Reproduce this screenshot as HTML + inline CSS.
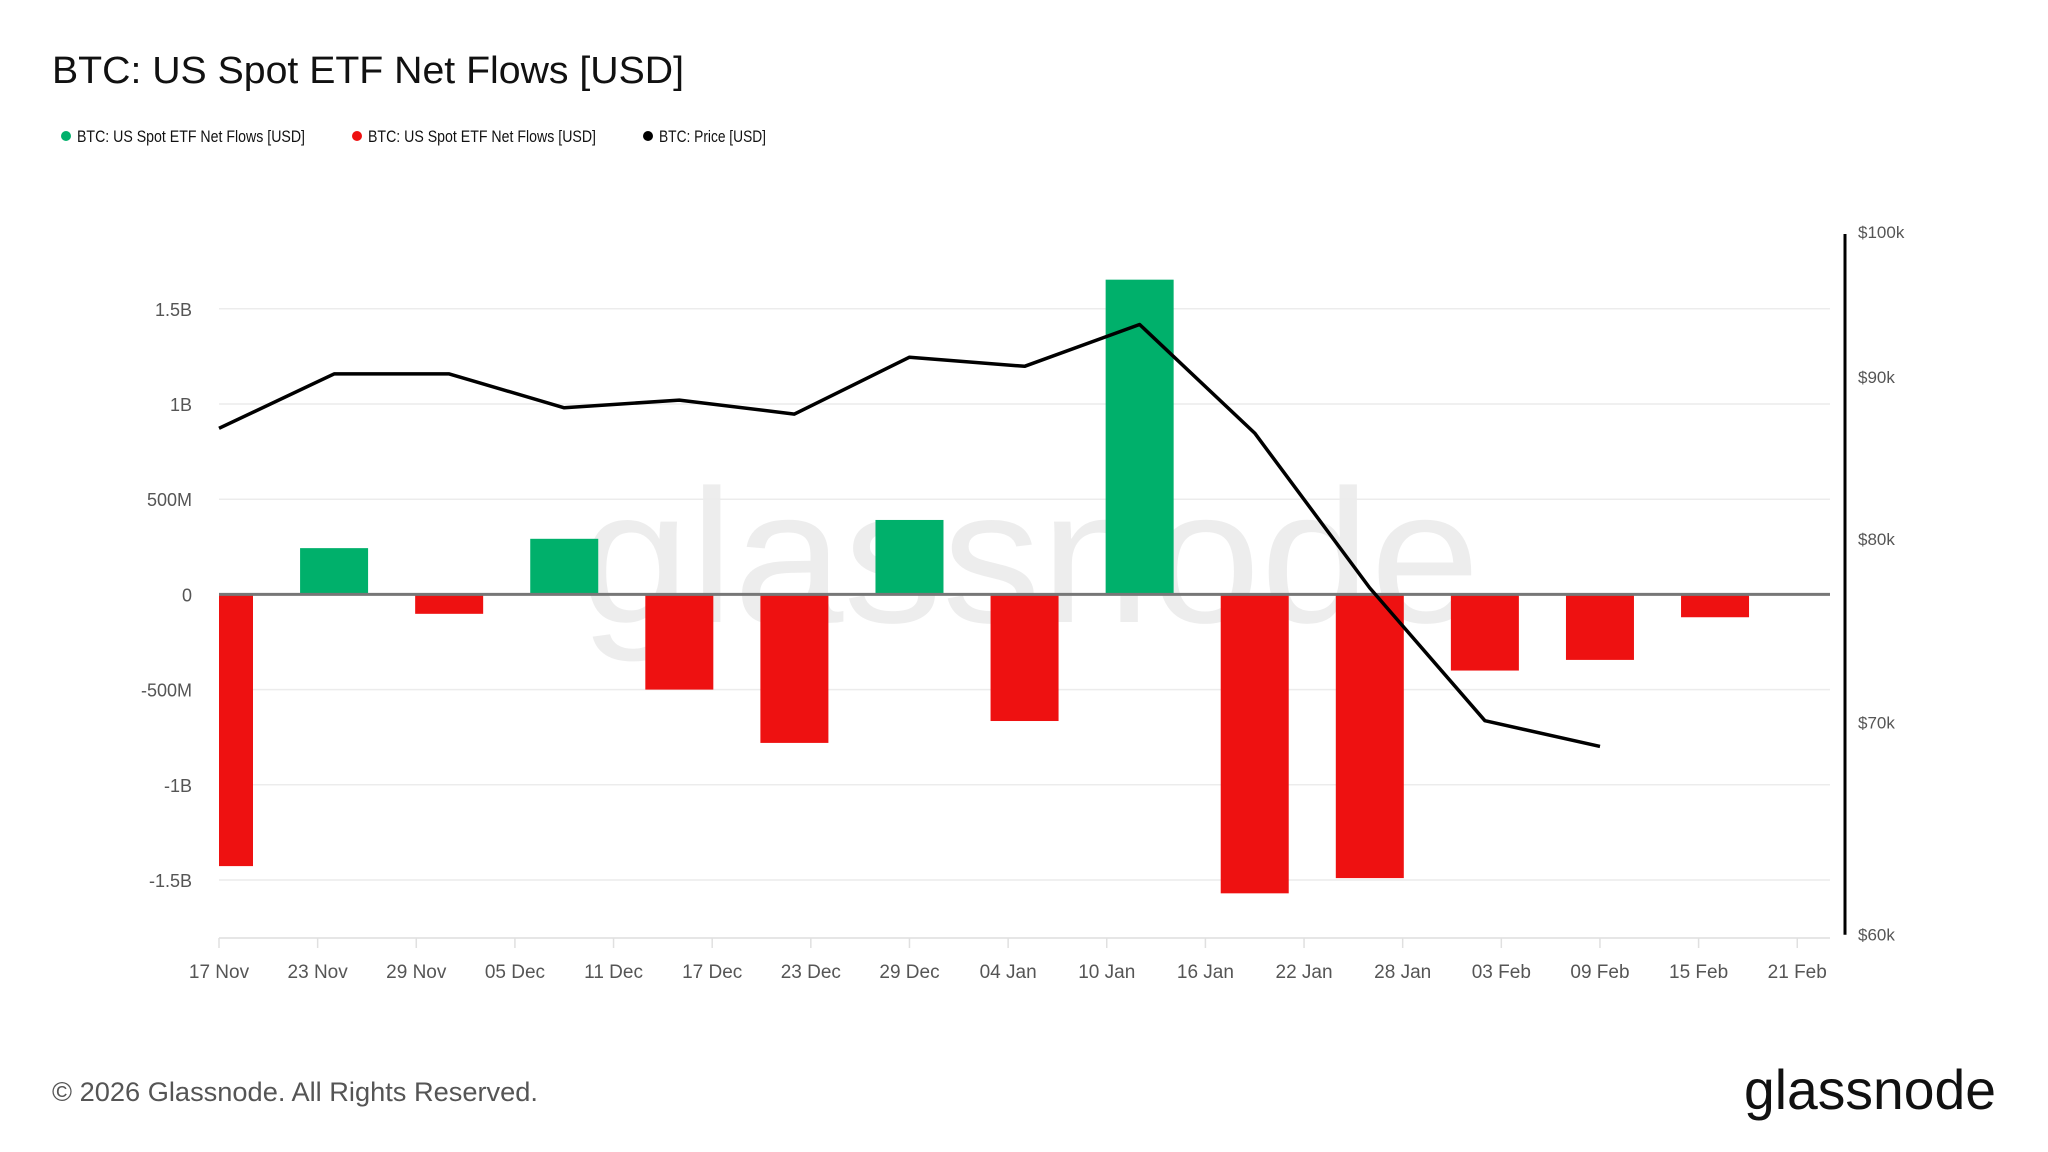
<!DOCTYPE html>
<html><head><meta charset="utf-8">
<style>
html,body{margin:0;padding:0;background:#fff;}
svg{display:block;font-family:"Liberation Sans",sans-serif;}
</style></head>
<body>
<svg id="chart" width="2048" height="1152" viewBox="0 0 2048 1152" xmlns="http://www.w3.org/2000/svg">
<rect width="2048" height="1152" fill="#fff"/>
<text x="52" y="83" font-size="38" fill="#111" textLength="632" lengthAdjust="spacingAndGlyphs">BTC: US Spot ETF Net Flows [USD]</text>
<g>
 <g><circle cx="66" cy="136" r="5" fill="#00b06b"/><text x="77" y="142" font-size="17" fill="#111" textLength="228" lengthAdjust="spacingAndGlyphs">BTC: US Spot ETF Net Flows [USD]</text></g>
 <g><circle cx="357" cy="136" r="5" fill="#ee1111"/><text x="368" y="142" font-size="17" fill="#111" textLength="228" lengthAdjust="spacingAndGlyphs">BTC: US Spot ETF Net Flows [USD]</text></g>
 <g><circle cx="648" cy="136" r="5" fill="#000"/><text x="659" y="142" font-size="17" fill="#111" textLength="107" lengthAdjust="spacingAndGlyphs">BTC: Price [USD]</text></g>
</g>
<text x="1030" y="622" font-size="190" fill="#000" fill-opacity="0.07" text-anchor="middle" textLength="900" lengthAdjust="spacingAndGlyphs">glassnode</text>
<g id="grid"></g>
<defs><clipPath id="plotclip"><rect x="219" y="200" width="1611" height="738"/></clipPath></defs>
<g id="bars" clip-path="url(#plotclip)"></g>
<line x1="219" x2="1830" y1="594.4" y2="594.4" stroke="#777" stroke-width="3"/>
<g id="line"></g>
<g id="axes"></g>
<text x="52" y="1101" font-size="27" fill="#555" textLength="486" lengthAdjust="spacingAndGlyphs">© 2026 Glassnode. All Rights Reserved.</text>
<text x="1996" y="1109" font-size="56" fill="#111" text-anchor="end" textLength="252" lengthAdjust="spacingAndGlyphs">glassnode</text>
</svg>
<script>
const flowDays = [0,7,14,21,28,35,42,49,56,63,70,77,84,91];
const flowValues = [-1.427,0.243,-0.102,0.292,-0.50,-0.78,0.391,-0.665,1.653,-1.57,-1.49,-0.40,-0.344,-0.12];
const priceDays = [0,7,14,21,28,35,42,49,56,63,70,77,84];
const priceValues = [86.7,90.2,90.2,88.0,88.5,87.6,91.3,90.7,93.5,86.4,77.2,70.1,68.8];
const yTicks = [1.5,1,0.5,0,-0.5,-1,-1.5];
const yTickLabels = ["1.5B","1B","500M","0","-500M","-1B","-1.5B"];
const priceTicks = [100,90,80,70,60];
const priceTickLabels = ["$100k","$90k","$80k","$70k","$60k"];
const xTickDays = [0,6,12,18,24,30,36,42,48,54,60,66,72,78,84,90,96];
const xTickLabels = ["17 Nov","23 Nov","29 Nov","05 Dec","11 Dec","17 Dec","23 Dec","29 Dec","04 Jan","10 Jan","16 Jan","22 Jan","28 Jan","03 Feb","09 Feb","15 Feb","21 Feb"];

const NS="http://www.w3.org/2000/svg";
const xS = d => 219 + d*16.44;
const yS = v => 594.4 - v*190.4;
const pS = p => 232 + Math.log(100/p)*1375.6;
function mk(tag, attrs, parent){const e=document.createElementNS(NS,tag);for(const k in attrs)e.setAttribute(k,attrs[k]);parent.appendChild(e);return e;}
const grid=document.getElementById('grid'), bars=document.getElementById('bars'), line=document.getElementById('line'), axes=document.getElementById('axes');

yTicks.forEach((v,i)=>{
  const g=mk('line',{x1:219,x2:1830,y1:yS(v),y2:yS(v),stroke:'#ececec','stroke-width':1.5},grid);
  
  
  const t=mk('text',{x:192,y:yS(v)+7,'font-size':18,fill:'#555','text-anchor':'end'},axes);
  t.textContent=yTickLabels[i];
  
  
});
const base=mk('line',{x1:219,x2:1830,y1:938,y2:938,stroke:'#e6e6e6','stroke-width':2},axes);


xTickDays.forEach((d,i)=>{
  const tk=mk('line',{x1:xS(d),x2:xS(d),y1:938,y2:948,stroke:'#e0e0e0','stroke-width':1.5},axes);
  
  
  const t=mk('text',{x:xS(d),y:978,'font-size':19,fill:'#555','text-anchor':'middle'},axes);
  t.textContent=xTickLabels[i];
  
  
});
flowDays.forEach((d,i)=>{
  const v=flowValues[i];
  const y0=yS(0), y1=yS(v);
  const r=mk('rect',{x:xS(d)-34,y:Math.min(y0,y1),width:68,height:Math.abs(y1-y0),fill:v>=0?'#00b06b':'#ee1111'},bars);
  
  
});
const pts=priceDays.map((d,i)=>xS(d).toFixed(1)+','+pS(priceValues[i]).toFixed(1)).join(' ');
const pl=mk('polyline',{points:pts,fill:'none',stroke:'#000','stroke-width':3.5,'stroke-linejoin':'round'},line);


const ra=mk('line',{x1:1845,x2:1845,y1:pS(100)+2,y2:pS(60),stroke:'#000','stroke-width':3},axes);


priceTicks.forEach((p,i)=>{
  const t=mk('text',{x:1858,y:pS(p)+6,'font-size':17,fill:'#555'},axes);
  t.textContent=priceTickLabels[i];
  
  
});
</script>
</body></html>
